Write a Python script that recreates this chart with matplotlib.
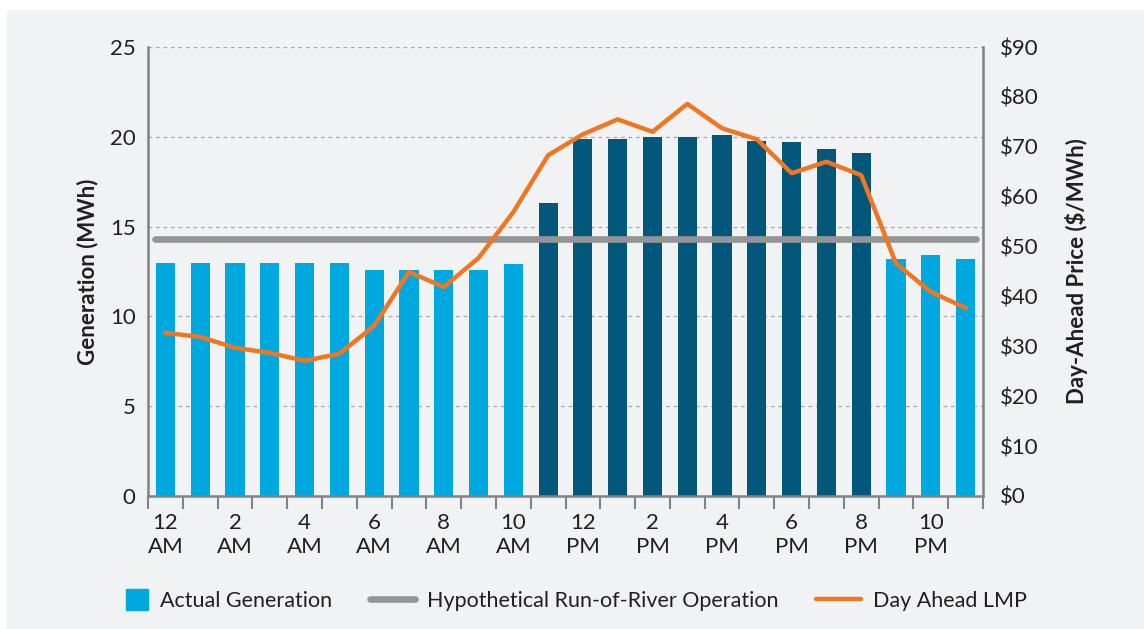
import matplotlib.pyplot as plt
from matplotlib.lines import Line2D
from matplotlib.patches import Rectangle, Patch
from matplotlib.legend_handler import HandlerPatch

plt.rcParams['font.family'] = ['Lato', 'DejaVu Sans']

hours = list(range(24))
hour_labels = ['12\nAM', '2\nAM', '4\nAM', '6\nAM', '8\nAM', '10\nAM',
               '12\nPM', '2\nPM', '4\nPM', '6\nPM', '8\nPM', '10\nPM']
generation = [13.0, 13.0, 13.0, 13.0, 13.0, 13.0, 12.6, 12.6, 12.6, 12.6, 12.9, 16.3,
              19.85, 19.9, 20.0, 20.0, 20.1, 19.75, 19.7, 19.3, 19.1, 13.2, 13.4, 13.2]
peak = [0, 0, 0, 0, 0, 0, 0, 0, 0, 0, 0, 1,
        1, 1, 1, 1, 1, 1, 1, 1, 1, 0, 0, 0]
run_of_river = 14.3
lmp = [32.7, 31.9, 29.7, 28.7, 27.1, 28.5, 34.1, 44.9, 41.9, 47.7, 56.9, 68.3,
       72.5, 75.5, 73.0, 78.6, 73.7, 71.5, 64.7, 67.0, 64.3, 46.6, 40.9, 37.7]

blue = '#00a8e0'
teal = '#02577a'
gray = '#939598'
orange = '#f07622'
bg = '#f1f2f4'
spine_c = '#808285'
text_c = '#231f20'

fig = plt.figure(figsize=(11.44, 6.29), dpi=100)
fig.patch.set_facecolor('white')
fig.patches.append(Rectangle((7 / 1144, 0), 1, 1 - 10 / 629, transform=fig.transFigure,
                             facecolor=bg, edgecolor='none', zorder=-10))

ax = fig.add_axes([148 / 1144, 1 - 496 / 629, (983 - 148) / 1144, (496 - 47) / 629])
ax.set_facecolor(bg)

colors = [teal if p else blue for p in peak]
ax.bar(hours, generation, width=0.55, color=colors, zorder=2)
ax.plot([hours[0] - 0.3, hours[-1] + 0.3], [run_of_river, run_of_river],
        color=gray, linewidth=4.8, solid_capstyle='round', zorder=3)

ax.set_xlim(-0.5, 23.5)
ax.set_ylim(0, 25)
ax.set_yticks([0, 5, 10, 15, 20, 25])
ax.yaxis.grid(True, linestyle=(0, (3, 3)), color='#a7a9ac', linewidth=0.9)
ax.set_axisbelow(True)

ax.set_xticks(hours[::2])
ax.set_xticklabels(hour_labels, linespacing=1.3)
ax.set_xticks([h - 0.5 for h in hours] + [hours[-1] + 0.5], minor=True)
ax.tick_params(axis='x', which='major', length=0, pad=12, labelsize=16, labelcolor=text_c)
ax.tick_params(axis='x', which='minor', length=9, width=1.5, color=spine_c, direction='out')
ax.tick_params(axis='y', length=0, pad=9, labelsize=16, labelcolor=text_c)

for side in ['left', 'right', 'bottom']:
    ax.spines[side].set_color(spine_c)
    ax.spines[side].set_linewidth(1.8)
ax.spines['top'].set_visible(False)

ax.set_ylabel('Generation (MWh)', fontsize=16, fontweight='bold', color=text_c, labelpad=8)

ax2 = ax.twinx()
ax2.plot(hours, lmp, color=orange, linewidth=3.2, zorder=4)
ax2.set_ylim(0, 90)
ax2.set_yticks(range(0, 100, 10))
ax2.set_yticklabels(['$%d' % v for v in range(0, 100, 10)])
ax2.tick_params(axis='y', length=0, pad=12, labelsize=16, labelcolor=text_c)
for side in ['left', 'right', 'bottom', 'top']:
    ax2.spines[side].set_visible(False)
ax2.set_ylabel('Day-Ahead Price ($/MWh)', fontsize=16, fontweight='bold', color=text_c, labelpad=19)


def square_patch(legend, orig_handle, xdescent, ydescent, width, height, fontsize):
    s = height * 1.45
    return Rectangle((width - xdescent - s, -ydescent + (height - s) / 2), s, s)


handles = [Patch(color=blue),
           Line2D([], [], color=gray, linewidth=4.8, solid_capstyle='round'),
           Line2D([], [], color=orange, linewidth=3.2, solid_capstyle='round')]
labels = ['Actual Generation', 'Hypothetical Run-of-River Operation', 'Day Ahead LMP']
leg = fig.legend(handles, labels, loc='center', bbox_to_anchor=(0.494, 1 - 601 / 629), ncol=3,
                 frameon=False, fontsize=15.5, handlelength=2.1, handletextpad=0.55,
                 columnspacing=1.75, labelcolor=text_c,
                 handler_map={Patch: HandlerPatch(patch_func=square_patch)})

fig.savefig('out.png', dpi=100, facecolor=fig.get_facecolor())
